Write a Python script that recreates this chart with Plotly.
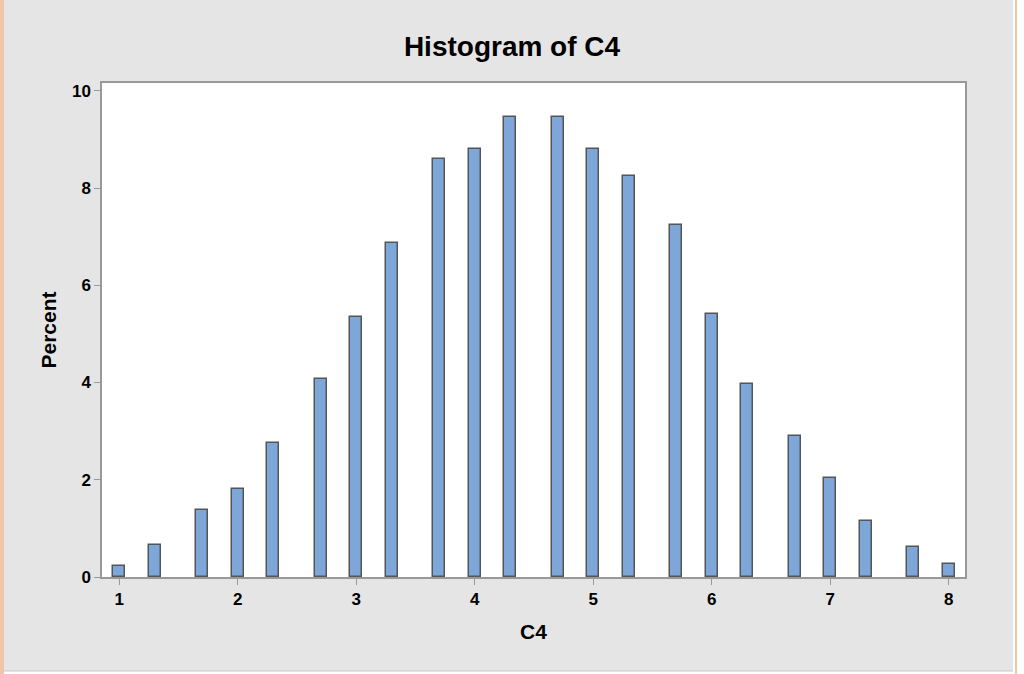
import plotly.graph_objects as go

# Data
bin_centers = [1.0, 1.3, 1.7, 2.0, 2.3, 2.7, 3.0, 3.3, 3.7, 4.0, 4.3,
               4.7, 5.0, 5.3, 5.7, 6.0, 6.3, 6.7, 7.0, 7.3, 7.7, 8.0]
percent = [0.22, 0.65, 1.38, 1.81, 2.75, 4.08, 5.35, 6.86, 8.60, 8.81, 9.46,
           9.46, 8.81, 8.24, 7.23, 5.41, 3.97, 2.89, 2.03, 1.16, 0.62, 0.26]
x_ticks = [1, 2, 3, 4, 5, 6, 7, 8]
y_ticks = [0, 2, 4, 6, 8, 10]

W, H = 1024, 674
L, R, T, B = 102, 59, 83, 97
pw, ph = W - L - R, H - T - B

def px(xp):
    return (xp - L) / pw

def py(yp):
    return (H - B - yp) / ph

fig = go.Figure()
fig.add_trace(go.Bar(
    x=bin_centers, y=percent, width=0.1,
    marker=dict(color="#7DA7D8", line=dict(color="#555555", width=1.5)),
    hoverinfo="x+y",
))

font_family = "Liberation Sans, Arial, sans-serif"

fig.update_layout(
    width=W, height=H,
    margin=dict(l=L, r=R, t=T, b=B, pad=0),
    paper_bgcolor="#e5e5e5",
    plot_bgcolor="white",
    showlegend=False,
    bargap=0,
    title=dict(text="Histogram of C4", x=0.5, xanchor="center",
               y=1 - 46 / H, yanchor="middle",
               font=dict(family=font_family, size=28, color="black", weight="bold")),
    xaxis=dict(range=[0.854, 8.138], tickvals=x_ticks, ticktext=[str(v) for v in x_ticks],
               ticks="outside", ticklen=6, tickcolor="#999999", tickwidth=1,
               showline=True, linecolor="#999999", linewidth=1.5, mirror=True,
               showgrid=False, zeroline=False,
               tickfont=dict(family=font_family, size=17, color="black", weight="bold"),
               title=dict(text="C4", standoff=16,
                          font=dict(family=font_family, size=21, color="black", weight="bold"))),
    yaxis=dict(range=[0, 10.16], tickvals=y_ticks, ticktext=[str(v) for v in y_ticks],
               ticks="outside", ticklen=6, tickcolor="#999999", tickwidth=1,
               showline=True, linecolor="#999999", linewidth=1.5, mirror=True,
               showgrid=False, zeroline=False,
               tickfont=dict(family=font_family, size=17, color="black", weight="bold"),
               title=dict(text="Percent", standoff=10,
                          font=dict(family=font_family, size=21, color="black", weight="bold"))),
)

# Window frame decorations
fig.add_shape(type="rect", xref="paper", yref="paper",
              x0=px(0), x1=px(4), y0=py(H), y1=py(0),
              fillcolor="#f2c4a8", line=dict(width=0), layer="below")
fig.add_shape(type="rect", xref="paper", yref="paper",
              x0=px(1013), x1=px(1024), y0=py(H), y1=py(0),
              fillcolor="white", line=dict(width=0), layer="below")
fig.add_shape(type="rect", xref="paper", yref="paper",
              x0=px(1015), x1=px(1017), y0=py(H), y1=py(0),
              fillcolor="#f2c4a8", line=dict(width=0), layer="below")
fig.add_shape(type="rect", xref="paper", yref="paper",
              x0=px(4), x1=px(1013), y0=py(H), y1=py(671),
              fillcolor="white", line=dict(width=0), layer="below")
fig.add_shape(type="line", xref="paper", yref="paper",
              x0=px(4), x1=px(1013), y0=py(671), y1=py(671),
              line=dict(color="#c8c8c8", width=1), layer="below")

fig.write_html("out.html", config={"displayModeBar": False},
               post_script="document.body.style.margin='0';document.body.style.overflow='hidden';")
